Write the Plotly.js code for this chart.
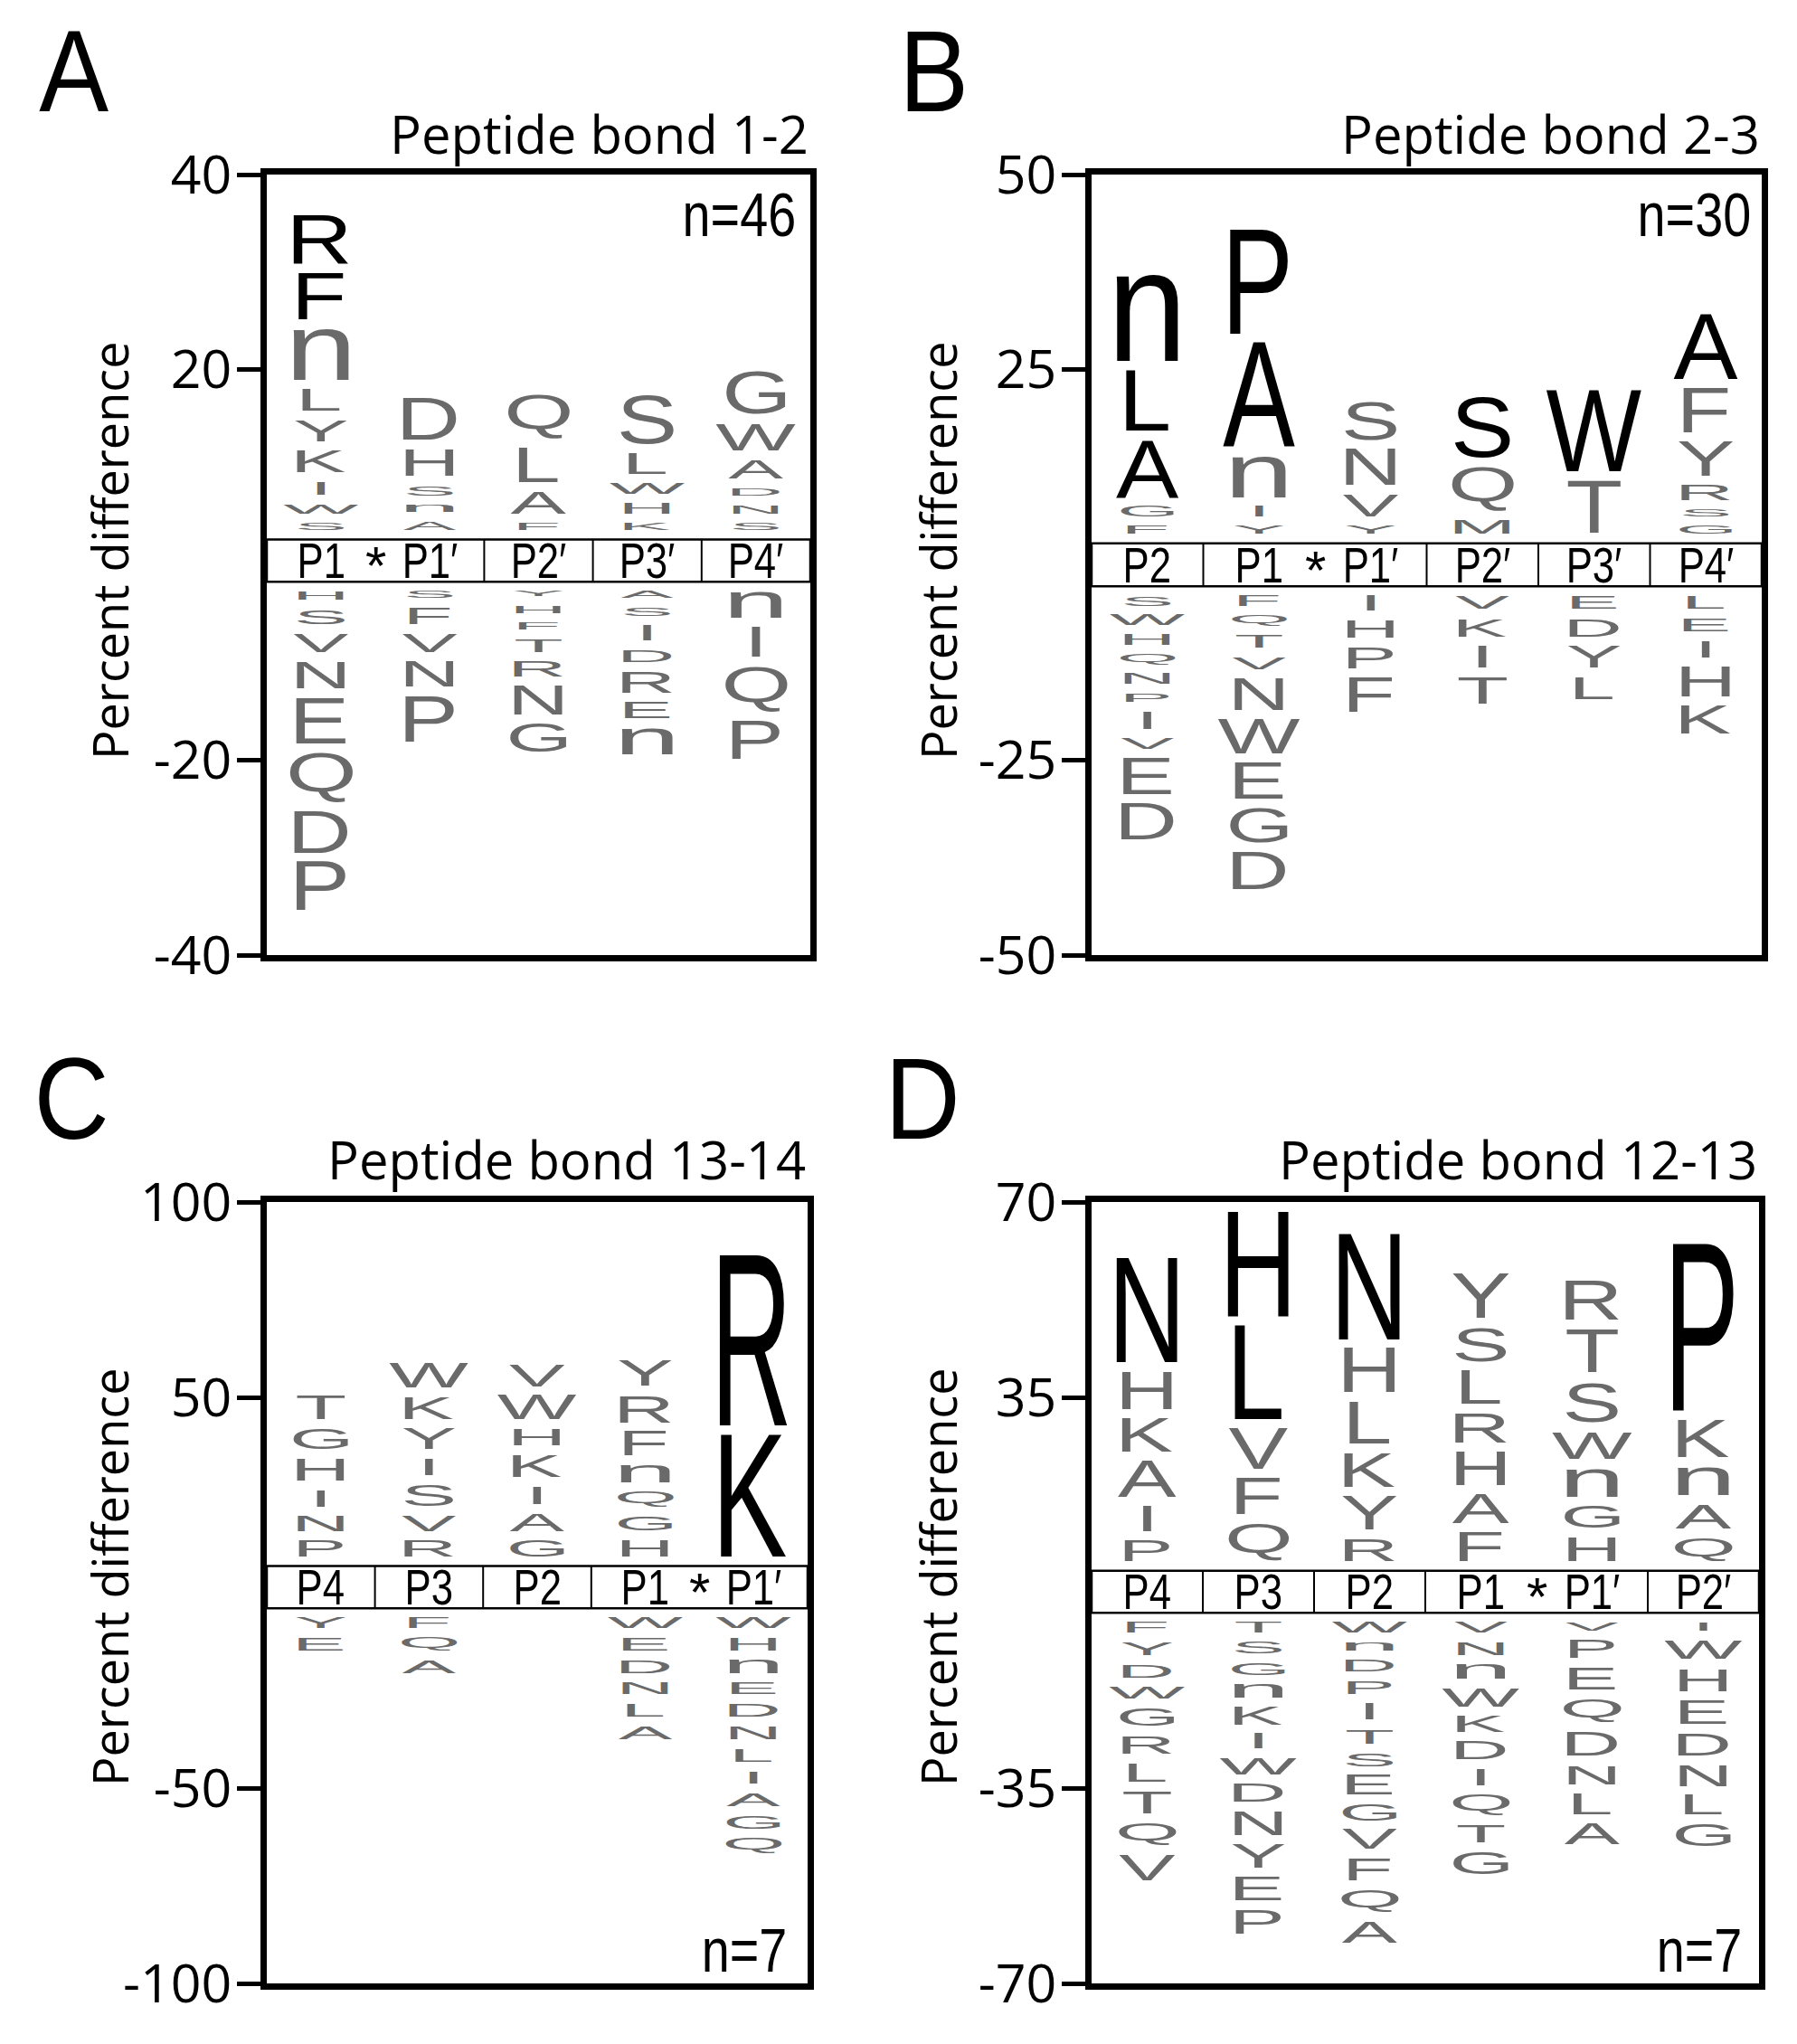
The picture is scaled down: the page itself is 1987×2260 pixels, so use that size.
<!DOCTYPE html>
<html><head><meta charset="utf-8">
<script src="https://cdn.plot.ly/plotly-3.0.1.min.js"></script>
<style>html,body{margin:0;padding:0;background:#fff}#chart{width:1987px;height:2260px}</style>
</head><body><div id="chart"></div>
<script>
// ---------------- DATA ----------------
// Letters are listed from the central label band outward; values are percent-difference heights.
const titleA = "Peptide bond 1-2", nA = "n=46";
const posA = ["P1","P1′","P2′","P3′","P4′"];
const upLetA = ["SWIKYLnFR","AnSHD","FALQ","KHWLS","SNDAWG"];
const upValA = [[1.7,1.9,2.3,3.2,3.1,3.2,6.2,5.7,6.0],[1.85,1.7,2.0,3.7,5.2],[1.7,3.2,4.5,5.4],[1.7,2.0,2.0,3.1,6.0],[1.7,1.85,1.7,2.9,3.7,5.4]];
const upDarkA = ["FR","","","",""];
const dnLetA = ["HSVNEQDP","SFVNP","YHFTRNG","ASIDREn","nIQP"];
const dnValA = [[1.85,2.5,2.9,3.7,5.6,6.0,5.2,5.9],[1.7,2.6,2.9,3.55,5.6],[1.5,1.7,1.7,2.3,2.5,3.9,3.9],[1.7,1.85,2.5,2.2,3.1,2.6,3.7],[3.7,4.0,5.6,4.9]];
const yTicksA = [-40,-20,20,40];

const titleB = "Peptide bond 2-3", nB = "n=30";
const posB = ["P2","P1","P1′","P2′","P3′","P4′"];
const upLetB = ["FGALn","YInAP","YVNS","MQS","TW","GSRYFA"];
const upValB = [[2.2,2.5,8.5,8.9,12.2],[2.2,2.5,6.4,14.5,14.5],[2.2,4.05,5.8,6.2],[3.0,6.8,9.1],[8.0,11.6],[2.2,2.1,3.1,5.6,6.8,9.5]];
const upDarkB = ["ALn","AP","","S","W","A"];
const dnLetB = ["SWHQNPIVED","FQTVNWEGD","IHPF","VKIT","EDYL","LEIHK"];
const dnValB = [[2.5,2.5,2.5,2.5,2.5,2.3,3.5,2.5,5.8,5.8],[2.5,2.5,2.9,2.7,5.2,5.6,5.8,5.6,6.0],[3.1,3.5,3.9,5.6],[2.9,3.5,4.05,4.6],[2.9,3.5,4.05,4.05],[2.9,2.9,3.3,5.0,4.8]];
const yTicksB = [-50,-25,25,50];

const titleC = "Peptide bond 13-14", nC = "n=7";
const posC = ["P4","P3","P2","P1","P1′"];
const upLetC = ["PNIHGT","RVSIYKW","GAIKHWV","HGQnFRY","KR"];
const upValC = [[6.6,6.2,6.6,8.1,7.7,8.5],[6.6,6.2,8.1,6.6,7.7,8.1,8.5],[6.6,6.9,6.9,8.1,6.6,8.5,8.1],[6.6,6.2,6.2,6.9,8.5,9.3,8.9],[33.6,46.7]];
const upDarkC = ["","","","","KR"];
const dnLetC = ["YE","FQA","","WEDNLA","WHnEDNLIAGQ"];
const dnValC = [[5.0,5.8],[5.0,5.8,5.8],[],[5.0,5.8,5.8,5.4,5.8,5.8],[5.0,5.8,5.8,5.4,5.8,5.8,5.8,5.4,5.8,5.8,6.2]];
const yTicksC = [-100,-50,50,100];

const titleD = "Peptide bond 12-13", nD = "n=7";
const posD = ["P4","P3","P2","P1","P1′","P2′"];
const upLetD = ["PIAKHN","QFVLH","RYKLHN","FAHRLSY","HGnWSTR","QAnKP"];
const upValD = [[5.4,6.2,8.1,7.6,8.4,20.3],[8.4,8.1,8.9,18.6,20.3],[5.7,7.6,7.8,9.2,9.5,20.5],[6.8,6.8,7.6,7.0,7.6,7.8,9.5],[5.9,5.7,6.8,6.5,8.9,9.5,8.9],[5.9,5.9,6.8,8.4,31.6]];
const upDarkD = ["N","LH","N","","","P"];
const dnLetD = ["FYDWGRLTQV","TSGnKIWDNYEP","WnDPITSEGVFQA","VNnWKDIQTG","VPEQDNLA","IWHEDNLG"];
const dnValD = [[3.5,4.05,4.05,3.8,4.9,4.9,5.1,5.7,5.7,6.2],[3.5,3.8,3.8,4.05,4.9,4.3,4.6,4.9,5.9,5.9,5.9,5.9],[3.5,3.2,3.8,4.05,4.6,4.3,4.05,5.1,4.6,5.1,5.7,5.7,5.4],[3.5,4.05,4.3,4.9,4.6,4.9,4.6,5.4,4.9,5.7],[3.2,4.9,5.7,5.9,5.9,5.1,5.4,5.4],[3.2,5.1,5.7,5.9,5.7,5.4,5.1,5.7]];
const yTicksD = [-70,-35,35,70];

const panelLetters = ["A","B","C","D"];
const yTitle = "Percent difference";

// ---------------- LAYOUT CONFIG ----------------
const W = 1987, H = 2260;
const BLACK = "#000000", GRAY = "#6a6a6a";
const LOGO_FONT = "Liberation Sans, Arial, sans-serif";
const NARROW = "'Liberation Sans Narrow', 'Liberation Sans', sans-serif";
const TXT = "'Open Sans', 'Liberation Sans', sans-serif";
const GAP = 10.5, MINH = 3;

const panels = [
  {title:titleA, n:nA, pos:posA, upL:upLetA, upV:upValA, dark:upDarkA, dnL:dnLetA, dnV:dnValA, ticks:yTicksA, range:40,
   fx:[295,896], fy:[193,1056], band:[-1.73,2.6], star:1, letterXY:[82,79], ytX:121, ytY:609, titleY:147, nY:237, nRight:882},
  {title:titleB, n:nB, pos:posB, upL:upLetB, upV:upValB, dark:upDarkB, dnL:dnLetB, dnV:dnValB, ticks:yTicksB, range:50,
   fx:[1207,1948], fy:[193,1056], band:[-2.76,2.76], star:2, letterXY:[1032,79], ytX:1037, ytY:609, titleY:147, nY:237, nRight:1938},
  {title:titleC, n:nC, pos:posC, upL:upLetC, upV:upValC, dark:upDarkC, dnL:dnLetC, dnV:dnValC, ticks:yTicksC, range:100,
   fx:[295,893], fy:[1329,2193], band:[-4.0,6.8], star:4, letterXY:[79,1214], ytX:121, ytY:1744, titleY:1281, nY:2156, nRight:872},
  {title:titleD, n:nD, pos:posD, upL:upLetD, upV:upValD, dark:upDarkD, dnL:dnLetD, dnV:dnValD, ticks:yTicksD, range:70,
   fx:[1207,1945], fy:[1329,2193], band:[-3.6,3.94], star:4, letterXY:[1020,1214], ytX:1037, ytY:1744, titleY:1281, nY:2156, nRight:1928}
];

const traces = [], annotations = [], shapes = [], specs = {}, condense = {};
const layout = {width:W, height:H, margin:{l:0,r:0,t:0,b:0}, paper_bgcolor:"#fff", plot_bgcolor:"#fff",
  showlegend:false, annotations:annotations, shapes:shapes};

panels.forEach((p, i) => {
  const s = i === 0 ? "" : String(i + 1);
  const xr = "x" + s, yr = "y" + s;
  const nc = p.pos.length;
  traces.push({type:"scatter", mode:"markers", x:[], y:[], xaxis:xr, yaxis:yr, hoverinfo:"skip", showlegend:false});
  layout["xaxis" + s] = {domain:[p.fx[0]/W, p.fx[1]/W], range:[0.5, nc + 0.5], anchor:yr, showline:true, linewidth:7,
    linecolor:BLACK, mirror:true, showgrid:false, zeroline:false, showticklabels:false, ticks:"", fixedrange:true};
  layout["yaxis" + s] = {domain:[1 - p.fy[1]/H, 1 - p.fy[0]/H], range:[-p.range, p.range], anchor:xr,
    tickvals:p.ticks, ticktext:p.ticks.map(v => String(v)), ticks:"outside", ticklen:26, tickwidth:5, tickcolor:BLACK,
    showline:true, linewidth:7, linecolor:BLACK, mirror:true, showgrid:false, zeroline:false, fixedrange:true,
    tickfont:{family:TXT, size:59, color:BLACK}, ticklabelstandoff:-6};

  // central label band
  const [bb, bt] = p.band;
  shapes.push({type:"rect", xref:xr, yref:yr, x0:0.5, x1:nc + 0.5, y0:bb, y1:bt, line:{color:BLACK, width:2.5}, fillcolor:"#fff", layer:"above"});
  for (let k = 1; k < nc; k++) {
    if (k === p.star) continue;
    shapes.push({type:"line", xref:xr, yref:yr, x0:k + 0.5, x1:k + 0.5, y0:bb, y1:bt, line:{color:BLACK, width:2}, layer:"above"});
  }
  const bc = (bb + bt) / 2;
  p.pos.forEach((lab, k) => {
    condense[annotations.length] = 0.78;
    annotations.push({xref:xr, yref:yr, x:k + 1, y:bc, text:lab, showarrow:false,
      xanchor:"center", yanchor:"middle", font:{family:NARROW, size:56, color:BLACK}});
  });
  annotations.push({xref:xr, yref:yr, x:p.star + 0.5, y:bc - 0.12 * (bt - bb), text:"*", showarrow:false,
    xanchor:"center", yanchor:"middle", font:{family:NARROW, size:60, color:BLACK}});

  // logo letters
  for (let c = 0; c < nc; c++) {
    let cum = bt;
    const ul = p.upL[c], uv = p.upV[c];
    for (let j = 0; j < ul.length; j++) {
      const y0 = cum, y1 = cum + uv[j]; cum = y1;
      const col = p.dark[c].indexOf(ul[j]) >= 0 ? BLACK : GRAY;
      specs[annotations.length] = {xa:"xaxis" + s, ya:"yaxis" + s, x:c + 1, y0:y0, y1:y1, up:true, ch:ul[j]};
      annotations.push({xref:xr, yref:yr, x:c + 1, y:(y0 + y1) / 2, text:ul[j], showarrow:false,
        xanchor:"center", yanchor:"middle", font:{family:LOGO_FONT, size:100, color:col}});
    }
    cum = bb;
    const dl = p.dnL[c], dv = p.dnV[c];
    for (let j = 0; j < dl.length; j++) {
      const y1 = cum, y0 = cum - dv[j]; cum = y0;
      specs[annotations.length] = {xa:"xaxis" + s, ya:"yaxis" + s, x:c + 1, y0:y0, y1:y1, up:false, ch:dl[j]};
      annotations.push({xref:xr, yref:yr, x:c + 1, y:(y0 + y1) / 2, text:dl[j], showarrow:false,
        xanchor:"center", yanchor:"middle", font:{family:LOGO_FONT, size:100, color:GRAY}});
    }
  }

  // texts: panel letter, title, n, y-axis title
  condense[annotations.length] = 0.9;
  annotations.push({xref:"paper", yref:"paper", x:p.letterXY[0]/W, y:1 - p.letterXY[1]/H, text:panelLetters[i],
    showarrow:false, xanchor:"center", yanchor:"middle", font:{family:"'Liberation Sans', sans-serif", size:128, color:BLACK}});
  annotations.push({xref:"paper", yref:"paper", x:p.fx[1]/W, y:1 - p.titleY/H, text:p.title,
    showarrow:false, xanchor:"right", yanchor:"middle", font:{family:TXT, size:58, color:BLACK}});
  condense[annotations.length] = -0.82;
  annotations.push({xref:"paper", yref:"paper", x:p.nRight/W, y:1 - p.nY/H, text:p.n,
    showarrow:false, xanchor:"right", yanchor:"middle", font:{family:NARROW, size:68, color:BLACK}});
  annotations.push({xref:"paper", yref:"paper", x:p.ytX/W, y:1 - p.ytY/H, text:yTitle, textangle:-90,
    showarrow:false, xanchor:"center", yanchor:"middle", font:{family:TXT, size:54, color:BLACK}});
});

// ---------------- RENDER ----------------
const gd = document.getElementById("chart");
const WF = {n:1.4};
function stretch() {
  const fl = gd._fullLayout;
  const ctx = document.createElement("canvas").getContext("2d");
  ctx.font = "100px 'Liberation Sans'";
  const cache = {};
  gd.querySelectorAll("g.annotation").forEach(g => {
    const idx = +g.getAttribute("data-index");
    const t = g.querySelector("text.annotation-text");
    if (!t) return;
    if (condense[idx] !== undefined) {
      // horizontally condensed text (negative factor: keep right edge fixed)
      const f = Math.abs(condense[idx]);
      t.removeAttribute("transform");
      const b = t.getBBox();
      const ax = condense[idx] < 0 ? b.x + b.width : b.x + b.width / 2;
      t.setAttribute("transform", `translate(${ax * (1 - f)} 0) scale(${f} 1)`);
      return;
    }
    const sp = specs[idx];
    if (!sp) return;
    const xa = fl[sp.xa], ya = fl[sp.ya];
    const cx = xa._offset + xa.l2p(sp.x);
    let top, bot;
    if (sp.up) { top = ya._offset + ya.l2p(sp.y1); bot = ya._offset + ya.l2p(sp.y0) - GAP; if (bot - top < MINH) bot = top + MINH; }
    else { top = ya._offset + ya.l2p(sp.y1) + GAP; bot = ya._offset + ya.l2p(sp.y0); if (bot - top < MINH) top = bot - MINH; }
    const m = cache[sp.ch] || (cache[sp.ch] = ctx.measureText(sp.ch));
    const inkH = bot - top;
    const fh = Math.max(85, Math.min(125, 85 + 0.3 * inkH));
    const w = (m.actualBoundingBoxLeft + m.actualBoundingBoxRight) / 100 * fh * (WF[sp.ch] || 1);
    const x0 = cx - w / 2, x1 = cx + w / 2;
    t.removeAttribute("transform");
    const bx = t.getBBox();
    const FA = m.fontBoundingBoxAscent, FD = m.fontBoundingBoxDescent;
    const k = bx.height / (FA + FD);
    const base = bx.y + FA * k;
    const ix0 = bx.x - m.actualBoundingBoxLeft * k, ix1 = bx.x + m.actualBoundingBoxRight * k;
    const iy0 = base - m.actualBoundingBoxAscent * k, iy1 = base + m.actualBoundingBoxDescent * k;
    const P = t.parentNode.getCTM();
    const px0 = (x0 - P.e) / P.a, px1 = (x1 - P.e) / P.a;
    const py0 = (top - P.f) / P.d, py1 = (bot - P.f) / P.d;
    const sx = (px1 - px0) / (ix1 - ix0), sy = (py1 - py0) / (iy1 - iy0);
    const tx = px0 - sx * ix0, ty = py0 - sy * iy0;
    t.setAttribute("transform", `matrix(${sx} 0 0 ${sy} ${tx} ${ty})`);
  });
}
Plotly.newPlot(gd, traces, layout, {staticPlot:true, responsive:false}).then(() => {
  stretch();
  gd.on && gd.on("plotly_afterplot", stretch);
  if (document.fonts && document.fonts.ready) document.fonts.ready.then(stretch);
});
</script>
</body></html>
